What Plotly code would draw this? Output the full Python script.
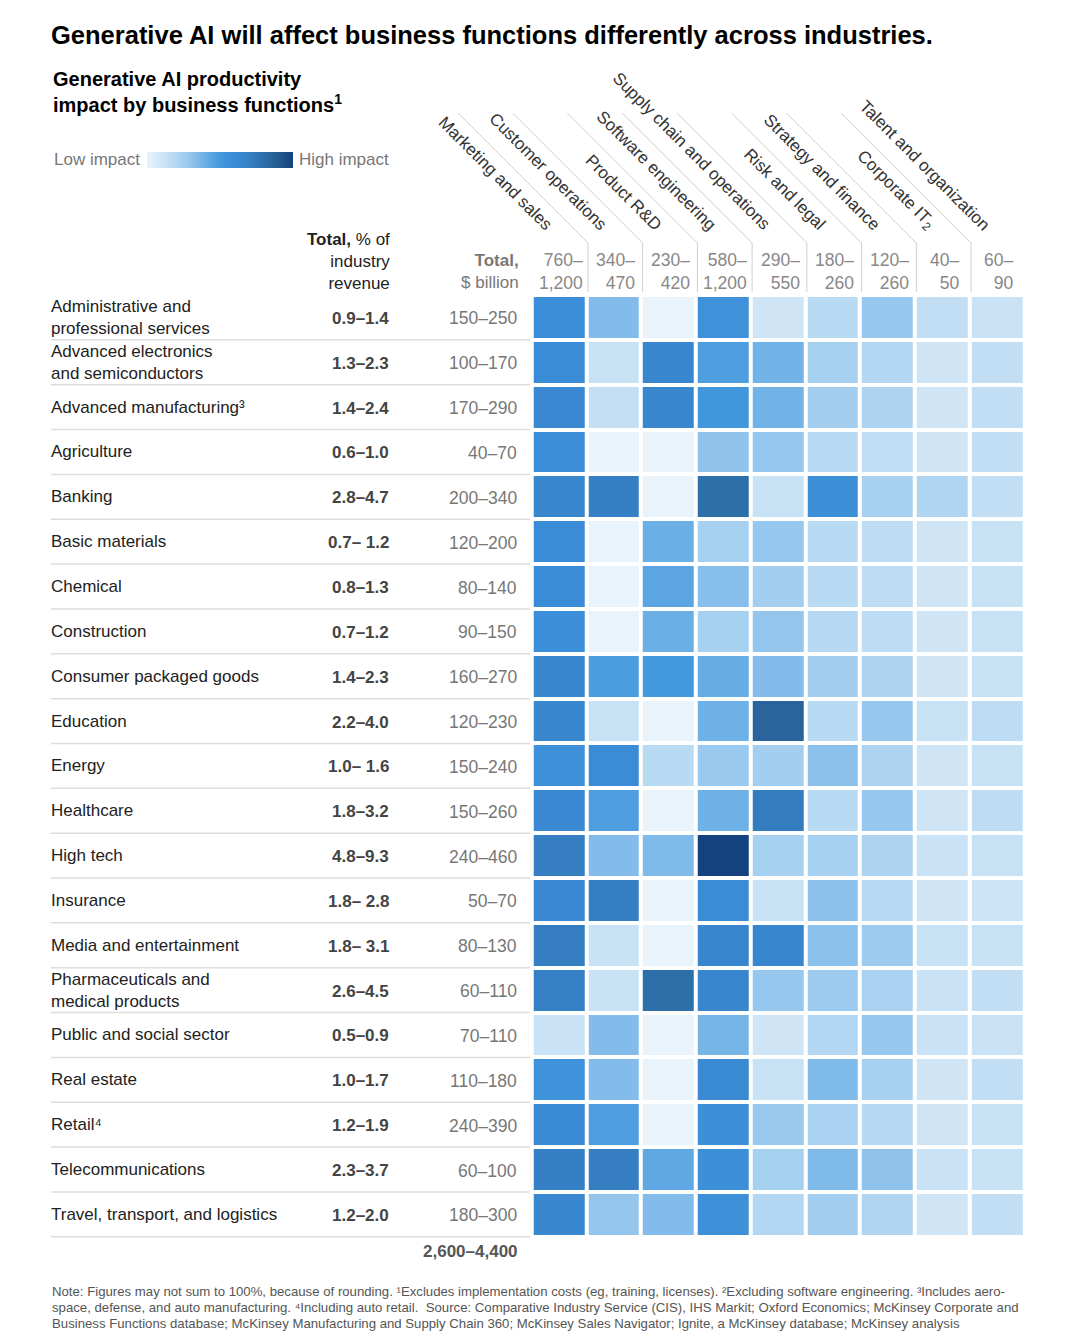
import plotly.graph_objects as go

# page body has an 8px default margin; lay out in window pixels and offset
OFF = 8
W, H = 1080 - OFF, 1336 - OFF
FONT = "Liberation Sans, Arial, sans-serif"

title = "Generative AI will affect business functions differently across industries."
subtitle = "Generative AI productivity<br>impact by business functions<sup>1</sup>"

functions = ["Marketing and sales", "Customer operations", "Product R&D",
             "Software engineering", "Supply chain and operations", "Risk and legal",
             "Strategy and finance", "Corporate IT<sub>2</sub>", "Talent and organization"]
function_lo = ["760–", "340–", "230–", "580–", "290–", "180–", "120–", "40–", "60–"]
function_hi = ["1,200", "470", "420", "1,200", "550", "260", "260", "50", "90"]

industries = ["Administrative and<br>professional services", "Advanced electronics<br>and semiconductors",
              "Advanced manufacturing³", "Agriculture", "Banking", "Basic materials", "Chemical",
              "Construction", "Consumer packaged goods", "Education", "Energy", "Healthcare",
              "High tech", "Insurance", "Media and entertainment",
              "Pharmaceuticals and<br>medical products", "Public and social sector", "Real estate",
              "Retail⁴", "Telecommunications", "Travel, transport, and logistics"]
total_pct = ["0.9–1.4", "1.3–2.3", "1.4–2.4", "0.6–1.0", "2.8–4.7", "0.7– 1.2", "0.8–1.3",
             "0.7–1.2", "1.4–2.3", "2.2–4.0", "1.0– 1.6", "1.8–3.2", "4.8–9.3", "1.8– 2.8",
             "1.8– 3.1", "2.6–4.5", "0.5–0.9", "1.0–1.7", "1.2–1.9", "2.3–3.7", "1.2–2.0"]
total_usd = ["150–250", "100–170", "170–290", "40–70", "200–340", "120–200", "80–140",
             "90–150", "160–270", "120–230", "150–240", "150–260", "240–460", "50–70",
             "80–130", "60–110", "70–110", "110–180", "240–390", "60–100", "180–300"]
grand_total = "2,600–4,400"

# impact intensity (0 = low, 1 = high), read from cell shading
impact = [
    [0.58, 0.34, 0.00, 0.55, 0.10, 0.18, 0.29, 0.15, 0.12],
    [0.60, 0.13, 0.65, 0.47, 0.38, 0.24, 0.20, 0.10, 0.15],
    [0.63, 0.14, 0.65, 0.52, 0.38, 0.25, 0.22, 0.10, 0.15],
    [0.58, 0.00, 0.00, 0.31, 0.29, 0.18, 0.15, 0.10, 0.15],
    [0.65, 0.70, 0.00, 0.80, 0.13, 0.57, 0.24, 0.21, 0.15],
    [0.60, 0.00, 0.40, 0.24, 0.29, 0.18, 0.16, 0.10, 0.13],
    [0.60, 0.00, 0.44, 0.33, 0.25, 0.18, 0.16, 0.10, 0.13],
    [0.58, 0.00, 0.40, 0.24, 0.30, 0.19, 0.16, 0.10, 0.13],
    [0.64, 0.48, 0.50, 0.41, 0.34, 0.25, 0.22, 0.10, 0.13],
    [0.64, 0.13, 0.00, 0.39, 0.85, 0.18, 0.29, 0.13, 0.16],
    [0.56, 0.60, 0.18, 0.28, 0.25, 0.32, 0.22, 0.10, 0.13],
    [0.63, 0.47, 0.00, 0.39, 0.72, 0.18, 0.29, 0.10, 0.16],
    [0.71, 0.34, 0.35, 1.00, 0.24, 0.24, 0.22, 0.12, 0.13],
    [0.63, 0.70, 0.00, 0.60, 0.13, 0.32, 0.18, 0.10, 0.11],
    [0.71, 0.13, 0.00, 0.65, 0.65, 0.32, 0.27, 0.13, 0.13],
    [0.69, 0.13, 0.80, 0.65, 0.29, 0.27, 0.23, 0.12, 0.15],
    [0.12, 0.34, 0.00, 0.37, 0.10, 0.20, 0.29, 0.12, 0.12],
    [0.55, 0.34, 0.00, 0.62, 0.13, 0.35, 0.24, 0.10, 0.15],
    [0.62, 0.47, 0.00, 0.57, 0.28, 0.23, 0.19, 0.10, 0.13],
    [0.70, 0.71, 0.43, 0.57, 0.24, 0.35, 0.31, 0.12, 0.13],
    [0.64, 0.30, 0.34, 0.56, 0.20, 0.25, 0.21, 0.10, 0.15],
]

footnotes = [
    "Note: Figures may not sum to 100%, because of rounding. ¹Excludes implementation costs (eg, training, licenses). ²Excluding software engineering. ³Includes aero-",
    "space, defense, and auto manufacturing. ⁴Including auto retail.  Source: Comparative Industry Service (CIS), IHS Markit; Oxford Economics; McKinsey Corporate and",
    "Business Functions database; McKinsey Manufacturing and Supply Chain 360; McKinsey Sales Navigator; Ignite, a McKinsey database; McKinsey analysis",
]

colorscale = [
    [0.0, "#e8f3fb"], [0.1, "#cfe5f6"], [0.2, "#b3d7f2"], [0.3, "#93c5ed"],
    [0.4, "#6aafe5"], [0.5, "#4498de"], [0.6, "#3a8cd6"], [0.7, "#3580c4"],
    [0.8, "#2d6fa9"], [0.9, "#245a8f"], [1.0, "#13427e"],
]

# grid geometry (window pixels)
GX0, GX1 = 531.7, 1024.3
GY0, GY1 = 295.0, 1236.8
ncol, nrow = len(functions), len(industries)
CW = (GX1 - GX0) / ncol
RH = (GY1 - GY0) / nrow


def px(x):
    return (x - OFF) / W


def py(y):
    return 1 - (y - OFF) / H


fig = go.Figure()
fig.add_trace(go.Heatmap(
    z=impact, x=list(range(ncol)), y=list(range(nrow)),
    zmin=0, zmax=1, colorscale=colorscale, xgap=4, ygap=4,
    hoverinfo="skip",
    colorbar=dict(orientation="h", x=px(147), xanchor="left", y=py(168), yanchor="bottom",
                  len=146, lenmode="pixels", thickness=16, thicknessmode="pixels",
                  outlinewidth=0, showticklabels=False, ticks="", xpad=0, ypad=0),
))

ann = []
shapes = []


def add_text(text, x, y, size=17, color="#222", xanchor="left", yanchor="middle", bold=False, **kw):
    if bold:
        text = "<b>" + text + "</b>"
    ann.append(dict(text=text, x=px(x), y=py(y), xref="paper", yref="paper",
                    xanchor=xanchor, yanchor=yanchor, showarrow=False,
                    font=dict(family=FONT, size=size, color=color), align=kw.pop("align", "left"), **kw))


add_text(title, 49, 35, size=25.5, color="#000", bold=True)
add_text(subtitle, 51, 92, size=20, color="#000", bold=True)
add_text("Low impact", 52, 160, size=17, color="#777")
add_text("High impact", 297, 160, size=17, color="#777")

add_text("<b>Total,</b> % of<br>industry<br>revenue", 392, 261, size=17, color="#222",
         xanchor="right", align="right")
add_text("<b>Total,</b><br>$ billion", 521, 271.5, size=17, color="#777",
         xanchor="right", align="right")

for i in range(ncol):
    d = GX0 + (i + 1) * CW
    cx = GX0 + (i + 0.5) * CW
    add_text(functions[i], d - 28, 237, size=17, color="#333", xanchor="right",
             yanchor="bottom", textangle=45)
    add_text(function_lo[i] + "<br>" + function_hi[i], cx + 2, 271.5, size=17.5, color="#888",
             xanchor="center", align="right")
    if i < ncol - 1:
        shapes.append(dict(type="line", xref="paper", yref="paper",
                           x0=px(d + 1.5), y0=py(243), x1=px(d + 1.5), y1=py(292),
                           line=dict(color="#cfcfcf", width=1)))
        shapes.append(dict(type="line", xref="paper", yref="paper",
                           x0=px(d + 1.5), y0=py(243), x1=px(d + 1.5 - 130), y1=py(113),
                           line=dict(color="#cfcfcf", width=1)))

for r in range(nrow):
    cy = GY0 + (r + 0.5) * RH
    add_text(industries[r], 49, cy, size=17, color="#222")
    add_text(total_pct[r], 391, cy + 1, size=17, color="#444", xanchor="right", bold=True)
    add_text(total_usd[r], 519, cy + 1, size=17.5, color="#777", xanchor="right")
    yl = GY0 + (r + 1) * RH
    shapes.append(dict(type="line", xref="paper", yref="paper",
                       x0=px(51), y0=py(yl), x1=px(530), y1=py(yl),
                       line=dict(color="#dddddd", width=1.5)))

add_text(grand_total, 520, 1251, size=17, color="#555", xanchor="right", bold=True)

for k, line in enumerate(footnotes):
    add_text(line, 50, 1291 + 16 * k, size=13.2, color="#555")

fig.update_layout(
    width=W, height=H, margin=dict(l=0, r=0, t=0, b=0),
    paper_bgcolor="white", plot_bgcolor="white",
    xaxis=dict(domain=[px(GX0), px(GX1)], range=[-0.5, ncol - 0.5], visible=False, fixedrange=True),
    yaxis=dict(domain=[py(GY1), py(GY0)], range=[nrow - 0.5, -0.5], visible=False, fixedrange=True),
    annotations=ann, shapes=shapes, showlegend=False,
)

fig.write_html("out.html")
